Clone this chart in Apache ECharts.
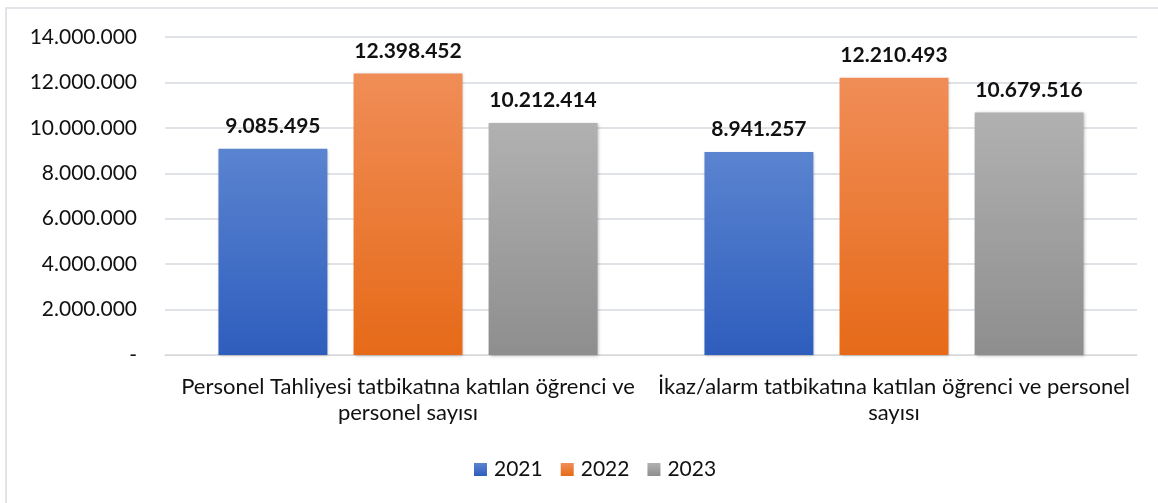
<!DOCTYPE html>
<html>
<head>
<meta charset="utf-8">
<script src="https://cdn.jsdelivr.net/npm/echarts@6/dist/echarts.min.js"></script>
<style>
html,body{margin:0;padding:0;background:#fff;overflow:hidden;}
#chart{width:1158px;height:503px;}
#frame{position:absolute;left:5px;top:7px;width:1200px;height:520px;border:2px solid #e1e5ea;box-sizing:border-box;pointer-events:none;}
</style>
</head>
<body>
<div id="chart"></div>
<div id="frame"></div>
<script>
var categories = [
    'Personel Tahliyesi tatbikatına katılan öğrenci ve\npersonel sayısı',
    'İkaz/alarm tatbikatına katılan öğrenci ve personel\nsayısı'
];
var years = ['2021', '2022', '2023'];
var values2021 = [9085495, 8941257];
var values2022 = [12398452, 12210493];
var values2023 = [10212414, 10679516];
var yTicks = [0, 2000000, 4000000, 6000000, 8000000, 10000000, 12000000, 14000000];

var FONT = 'Lato, "Open Sans", sans-serif';

// 9085495 -> 9.085.495
function dotFormat(v) {
    if (v === 0) return '-';
    return String(Math.round(v)).replace(/\B(?=(\d{3})+(?!\d))/g, '.');
}

function grad(top, bottom) {
    return new echarts.graphic.LinearGradient(0, 0, 0, 1, [
        { offset: 0, color: top },
        { offset: 1, color: bottom }
    ]);
}

var colors = [
    grad('#5b84d0', '#2e5dbd'),
    grad('#f08d57', '#e66a18'),
    grad('#b1b1b1', '#8e8e8e')
];
var data = [values2021, values2022, values2023];

var series = [];
for (var i = 0; i < years.length; i++) {
    series.push({
        name: years[i],
        type: 'bar',
        data: data[i],
        barGap: '24%',
        barCategoryGap: '22%',
        itemStyle: {
            color: colors[i],
            shadowColor: 'rgba(0,0,0,0.25)',
            shadowBlur: 3,
            shadowOffsetX: 1,
            shadowOffsetY: 1
        },
        label: {
            show: true,
            position: 'top',
            distance: 12,
            fontFamily: FONT,
            fontWeight: 'bold',
            fontSize: 21,
            color: '#111',
            formatter: function(p) { return dotFormat(p.value); }
        }
    });
}

var option = {
    animation: false,
    grid: { left: 165, right: 21, top: 37, bottom: 148, containLabel: false },
    legend: {
        data: years.map(function(y, i) {
            return { name: y, itemStyle: { color: colors[i] } };
        }),
        top: 454,
        left: 469,
        itemWidth: 13,
        itemHeight: 13,
        itemGap: 18,
        icon: 'rect',
        textStyle: { fontFamily: FONT, fontSize: 21, color: '#111', padding: [0, 0, 0, 2] }
    },
    xAxis: {
        type: 'category',
        data: categories,
        axisLine: { lineStyle: { color: '#d9d9d9', width: 1 } },
        axisTick: { show: false },
        axisLabel: {
            fontFamily: FONT,
            fontSize: 22,
            color: '#111',
            lineHeight: 26,
            margin: 19,
            interval: 0
        }
    },
    yAxis: {
        type: 'value',
        min: yTicks[0],
        max: yTicks[yTicks.length - 1],
        interval: 2000000,
        axisLine: { show: false },
        axisTick: { show: false },
        splitLine: { lineStyle: { color: '#dfe3e8', width: 2 } },
        axisLabel: {
            fontFamily: FONT,
            fontSize: 21,
            color: '#111',
            margin: 28,
            formatter: dotFormat
        }
    },
    series: series
};

var myChart = echarts.init(document.getElementById('chart'));
myChart.setOption(option);
</script>
</body>
</html>
